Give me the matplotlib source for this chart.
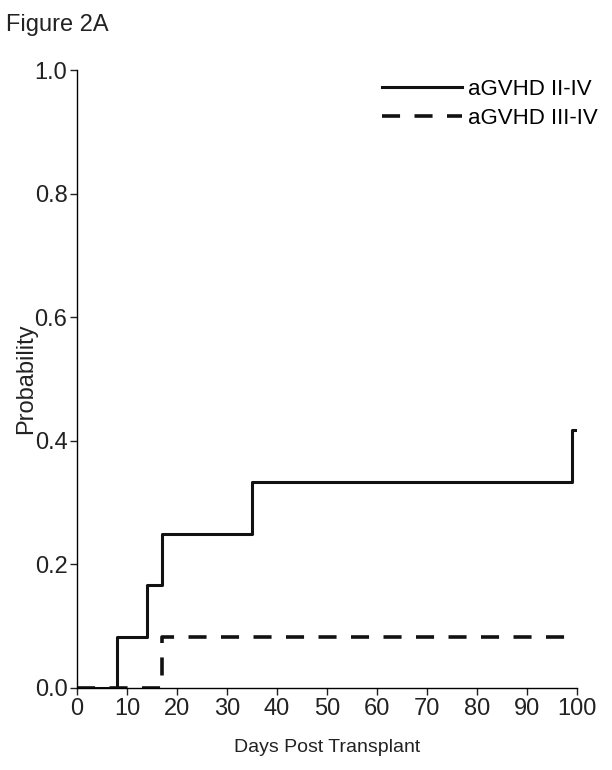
import numpy as np
import matplotlib.pyplot as plt

plt.rcParams['font.family'] = ['Liberation Sans', 'DejaVu Sans']

# cumulative incidence steps (day, probability)
days_2_4 = [0, 8, 14, 17, 35, 99, 100]
prob_2_4 = [0.0, 0.083, 0.167, 0.25, 0.333, 0.417, 0.417]

days_3_4 = [0, 17, 100]
prob_3_4 = [0.0, 0.083, 0.083]

x_ticks = np.arange(0, 101, 10)
y_ticks = [0.0, 0.2, 0.4, 0.6, 0.8, 1.0]

fig = plt.figure(figsize=(6.12, 7.7), dpi=100)
ax = fig.add_axes([0.126, 0.1065, 0.817, 0.8025])

ax.step(days_2_4, prob_2_4, where='post', color='#111111', lw=2.2,
        label='aGVHD II-IV')
ax.step(days_3_4, prob_3_4, where='post', color='#111111', lw=2.6,
        dashes=(5, 4), label='aGVHD III-IV')

ax.set_xlim(0, 100)
ax.set_ylim(0, 1.0)
ax.set_xticks(x_ticks)
ax.set_yticks(y_ticks)
ax.set_yticklabels([f'{v:.1f}' for v in y_ticks])
ax.tick_params(axis='both', labelsize=17, length=5, width=1, direction='out',
               colors='#222222', pad=2)
ax.spines['top'].set_visible(False)
ax.spines['right'].set_visible(False)
ax.spines['left'].set_linewidth(1)
ax.spines['bottom'].set_linewidth(1)

ax.set_xlabel('Days Post Transplant', fontsize=14, color='#222222', labelpad=14)
ax.set_ylabel('Probability', fontsize=17, color='#222222', labelpad=-2)

leg = ax.legend(loc='upper right', bbox_to_anchor=(1.06, 1.0), frameon=False,
                fontsize=16, handlelength=3.6, handletextpad=0.3,
                labelspacing=0.35, borderaxespad=0)

fig.text(0.01, 0.982, 'Figure 2A', fontsize=17, color='#222222', va='top')

fig.savefig('out.png', dpi=100)
